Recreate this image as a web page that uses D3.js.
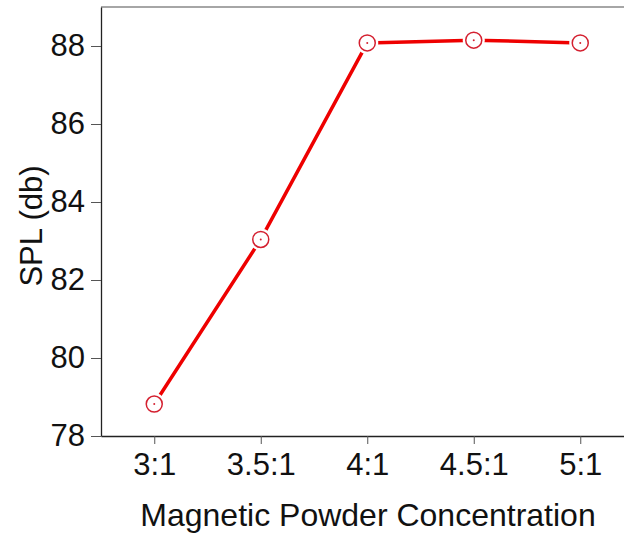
<!DOCTYPE html>
<html>
<head>
<meta charset="utf-8">
<script src="https://cdn.jsdelivr.net/npm/d3@7"></script>
<style>
  body { margin: 0; background: #fff; }
  text { font-family: "Liberation Sans", Arial, sans-serif; }
</style>
</head>
<body>
<div id="chart"></div>
<script>
var categories = ["3:1", "3.5:1", "4:1", "4.5:1", "5:1"];
var splValues = [78.82, 83.04, 88.08, 88.15, 88.08];
var yTicks = [78, 80, 82, 84, 86, 88];

var w = 624, h = 538;
var padLeft = 101, padTop = 7, padBottom = 436;

var svg = d3.select("#chart").append("svg").attr("width", w).attr("height", h);

var x = d3.scaleLinear().domain([-0.5, 4.5]).range([padLeft, padLeft + 5 * 106.5]);
var y = d3.scaleLinear().domain([78, 89]).range([padBottom, padTop]);

// top frame line
svg.append("line")
    .attr("x1", padLeft).attr("x2", w).attr("y1", padTop).attr("y2", padTop)
    .attr("stroke", "#888").attr("stroke-width", 1.5);

var yAxis = svg.append("g")
    .attr("transform", "translate(" + padLeft + ",0)")
    .call(d3.axisLeft(y).tickValues(yTicks).tickSize(10).tickSizeOuter(0).tickPadding(6));
yAxis.select(".domain").attr("stroke", "#222").attr("stroke-width", 1.3);
yAxis.selectAll(".tick line").attr("stroke", "#555");
yAxis.selectAll("text").attr("font-size", "31px").attr("fill", "#111")
    .style("font-family", "Liberation Sans, Arial, sans-serif");

var xAxis = svg.append("g")
    .attr("transform", "translate(0," + padBottom + ")")
    .call(d3.axisBottom(x).tickValues(d3.range(categories.length))
        .tickFormat(function (i) { return categories[i]; })
        .tickSize(8).tickSizeOuter(0).tickPadding(9));
xAxis.select(".domain").attr("stroke", "#222").attr("stroke-width", 1.3);
xAxis.selectAll(".tick line").attr("stroke", "#555");
xAxis.selectAll("text").attr("font-size", "31px").attr("fill", "#111")
    .style("font-family", "Liberation Sans, Arial, sans-serif");

var pts = splValues.map(function (v, i) { return [x(i), y(v)]; });

svg.append("path")
    .attr("d", d3.line()(pts))
    .attr("fill", "none")
    .attr("stroke", "#ee0000")
    .attr("stroke-width", 3.5)
    .attr("stroke-linejoin", "round");

var marks = svg.selectAll(".mk").data(pts).enter().append("g").attr("class", "mk");
marks.append("circle")
    .attr("cx", function (d) { return d[0]; })
    .attr("cy", function (d) { return d[1]; })
    .attr("r", 11)
    .attr("fill", "#fff");
marks.append("circle")
    .attr("cx", function (d) { return d[0]; })
    .attr("cy", function (d) { return d[1]; })
    .attr("r", 8)
    .attr("fill", "none")
    .attr("stroke", "#d42030")
    .attr("stroke-width", 1.5);
marks.append("circle")
    .attr("cx", function (d) { return d[0]; })
    .attr("cy", function (d) { return d[1]; })
    .attr("r", 1)
    .attr("fill", "#d42030");

svg.append("text")
    .attr("x", 368).attr("y", 526)
    .attr("text-anchor", "middle")
    .attr("font-size", "32px")
    .attr("fill", "#111")
    .text("Magnetic Powder Concentration");

svg.append("text")
    .attr("transform", "translate(42," + 226 + ") rotate(-90)")
    .attr("text-anchor", "middle")
    .attr("font-size", "31px")
    .attr("fill", "#111")
    .text("SPL (db)");
</script>
</body>
</html>
